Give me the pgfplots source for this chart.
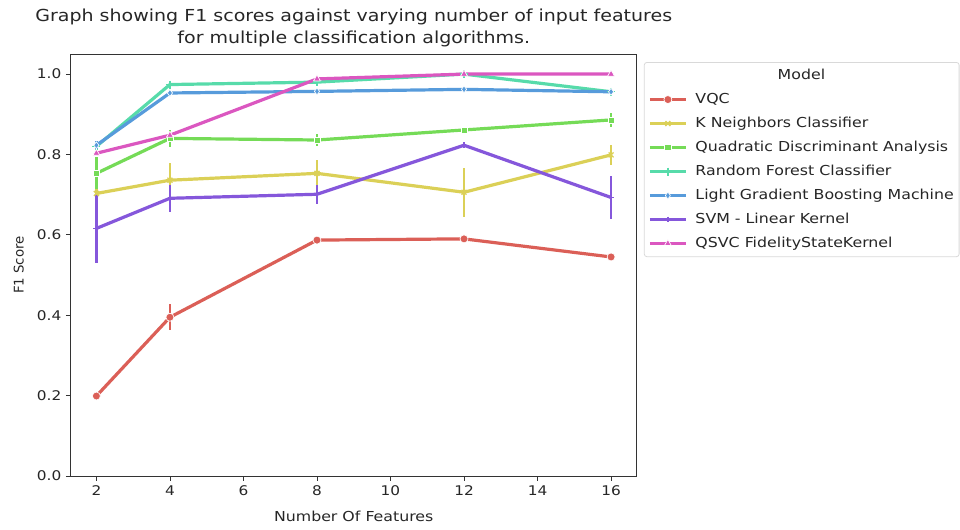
\documentclass[border=0pt]{standalone}
\usepackage{pgfplots}
\pgfplotsset{compat=1.18}
\usepackage{fontspec}
\setmainfont{DejaVu Sans}
\newfontfamily\wide[FakeStretch=1.15]{DejaVu Sans}
\definecolor{cVQC}{HTML}{DB5F57}
\definecolor{cKNN}{HTML}{DBD057}
\definecolor{cQDA}{HTML}{75DB57}
\definecolor{cRF}{HTML}{57DBAA}
\definecolor{cLGBM}{HTML}{579BDB}
\definecolor{cSVM}{HTML}{8557DB}
\definecolor{cQSVC}{HTML}{DB57C0}
\definecolor{txt}{HTML}{262626}
\begin{document}
\begin{tikzpicture}
\begin{axis}[
  at={(0,0)}, anchor=south west,
  scale only axis, width=424.6pt, height=316.5pt,
  xmin=1.3, xmax=16.7, ymin=0, ymax=1.05,
  xtick={2,4,...,16}, ytick={0,0.2,0.4,0.6,0.8,1.0},
  /pgf/number format/assume math mode=true,
  y tick label style={/pgf/number format/.cd, fixed, precision=1, fixed zerofill},
  tick label style={font=\wide\fontsize{10}{12}\selectfont, text=txt},
  xlabel style={font=\wide\fontsize{10.3}{12}\selectfont, text=txt, yshift=-5pt},
  ylabel style={font=\fontsize{10}{12}\selectfont, text=txt, yshift=3pt},
  xlabel={Number Of Features}, ylabel={F1 Score},
  title={Graph showing F1 scores against varying number of input features\\for multiple classification algorithms.},
  title style={align=center, font=\wide\fontsize{12.4}{16.5}\selectfont, text=txt, yshift=-4.5pt},
  axis line style={black!80, line width=0.6pt},
  tick style={black!80, line width=0.6pt},
  major tick length=3.5pt,
  tick align=outside, xtick pos=bottom, ytick pos=left,
  clip=false,
  every axis plot/.append style={line width=2.4pt, line join=round},
  error bars/y dir=both, error bars/y explicit,
  error bars/error mark=none,
  error bars/error bar style={line width=2pt},
  legend cell align=left,
  legend style={at={(1.0125,0.981)}, anchor=north west, draw=black!15, line width=0.6pt,
    rounded corners=2pt, fill=white, font=\wide\fontsize{10.3}{12}\selectfont, text=txt,
    inner xsep=3pt, inner ysep=4pt, row sep=6.3pt,
    /tikz/every odd column/.append style={column sep=5pt},
    nodes={inner sep=1pt, text height=7.5pt, text depth=2.2pt}},
  legend image code/.code={\draw[mark repeat=2,mark phase=2,line width=2.4pt] plot coordinates {(0pt,0pt) (13.5pt,0pt) (27pt,0pt)};},
]
\addlegendimage{empty legend}
\addlegendentry{\hspace{61.7pt}Model}

\addplot[color=cVQC, mark=*, mark size=3pt, mark options={draw=white, fill=cVQC, line width=0.5pt}]
 coordinates {(2,0.199) +- (0,0.011) (4,0.395) +- (0,0.032) (8,0.587) +- (0,0.006) (12,0.590) +- (0,0.006) (16,0.545) +- (0,0.006)};
\addlegendentry{VQC}

\addplot[color=cKNN, mark=x, mark size=2.6pt, mark options={line width=1pt}]
 coordinates {(2,0.703) +- (0,0.012) (4,0.736) +- (0,0.042) (8,0.753) +- (0,0.033) (12,0.706) +- (0,0.061) (16,0.799) +- (0,0.024)};
\addlegendentry{K Neighbors Classifier}

\addplot[color=cQDA, mark=square*, mark size=2.3pt, mark options={draw=white, fill=cQDA, line width=0.5pt}]
 coordinates {(2,0.753) +- (0,0.040) (4,0.840) +- (0,0.022) (8,0.836) +- (0,0.016) (12,0.861) +- (0,0.005) (16,0.886) +- (0,0.017)};
\addlegendentry{Quadratic Discriminant Analysis}

\addplot[color=cRF, mark=+, mark size=3pt, mark options={line width=1pt}]
 coordinates {(2,0.820) +- (0,0.010) (4,0.974) +- (0,0.008) (8,0.980) +- (0,0.004) (12,1.000) +- (0,0.001) (16,0.956) +- (0,0.004)};
\addlegendentry{Random Forest Classifier}

\addplot[color=cLGBM, mark=diamond*, mark size=2.6pt, mark options={draw=white, fill=cLGBM, line width=0.5pt}]
 coordinates {(2,0.823) +- (0,0.010) (4,0.953) +- (0,0.004) (8,0.957) +- (0,0.004) (12,0.962) +- (0,0.004) (16,0.956) +- (0,0.004)};
\addlegendentry{Light Gradient Boosting Machine}

\addplot[color=cSVM, mark=+, mark size=2.2pt, mark options={line width=1pt}]
 coordinates {(2,0.616) +- (0,0.085) (4,0.691) +- (0,0.033) (8,0.701) +- (0,0.023) (12,0.823) +- (0,0.005) (16,0.693) +- (0,0.054)};
\addlegendentry{SVM - Linear Kernel}

\addplot[color=cQSVC, mark=triangle*, mark size=3pt, mark options={draw=white, fill=cQSVC, line width=0.5pt}]
 coordinates {(2,0.803) +- (0,0.005) (4,0.848) +- (0,0.008) (8,0.988) +- (0,0.005) (12,1.000) +- (0,0.001) (16,1.000) +- (0,0.001)};
\addlegendentry{QSVC FidelityStateKernel}
\end{axis}
\useasboundingbox (-53pt,-39.75pt) rectangle (667pt,357pt);
\end{tikzpicture}
\end{document}
